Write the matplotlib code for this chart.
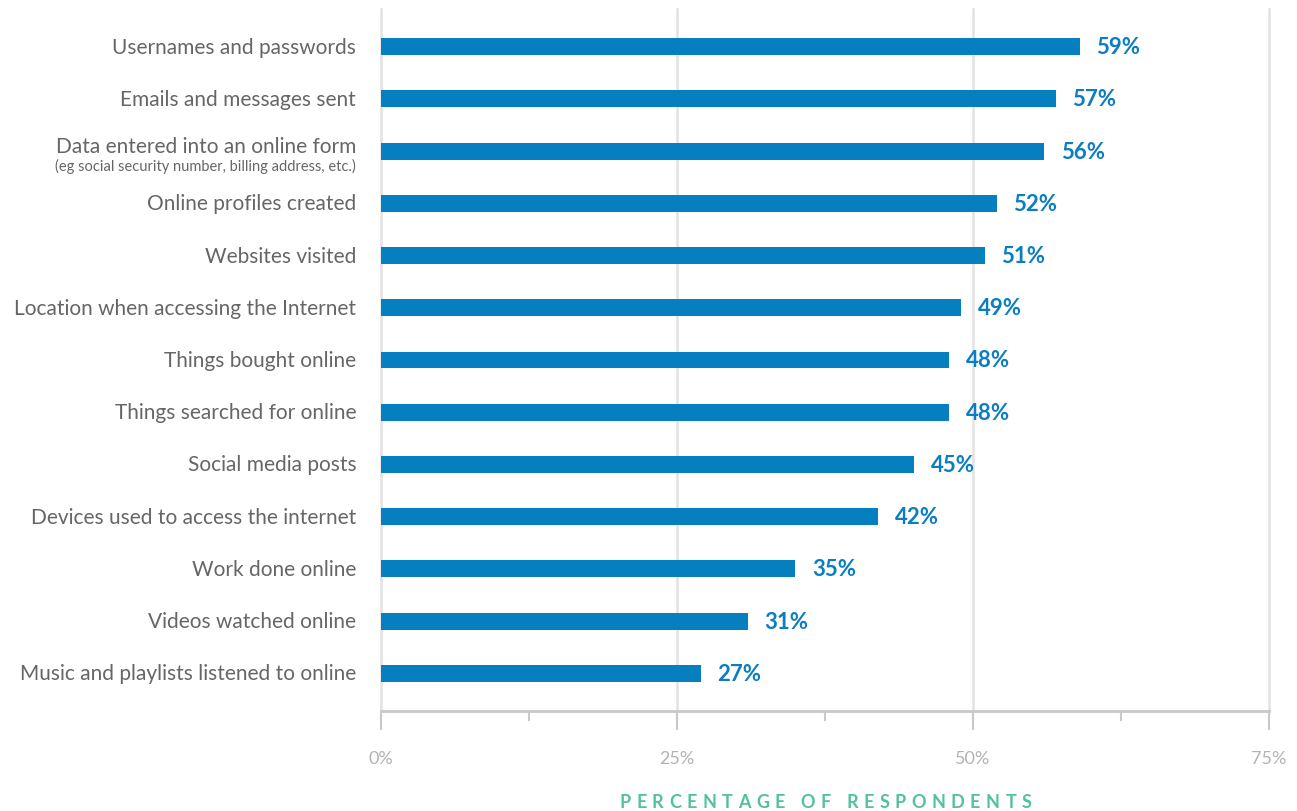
import matplotlib
matplotlib.use("Agg")
import matplotlib.pyplot as plt
from matplotlib.ticker import MultipleLocator, FuncFormatter
from matplotlib.transforms import ScaledTranslation, blended_transform_factory

plt.rcParams['font.family'] = ['Lato', 'DejaVu Sans']

categories = [
    'Usernames and passwords',
    'Emails and messages sent',
    'Data entered into an online form',
    'Online profiles created',
    'Websites visited',
    'Location when accessing the Internet',
    'Things bought online',
    'Things searched for online',
    'Social media posts',
    'Devices used to access the internet',
    'Work done online',
    'Videos watched online',
    'Music and playlists listened to online',
]
notes = {2: '(eg social security number, billing address, etc.)'}
values = [59, 57, 56, 52, 51, 49, 48, 48, 45, 42, 35, 31, 27]

bar_color = '#067fc1'
label_color = '#0b7dc1'
text_color = '#666666'
grid_color = '#e2e2e2'
axis_color = '#c9c9c9'

fig = plt.figure(figsize=(12.97, 8.12), dpi=100)
ax = fig.add_axes([381 / 1297, 1 - 712 / 812, 888 / 1297, 702 / 812])

ypos = list(range(len(categories)))
ax.barh(ypos, values, height=0.325, color=bar_color, zorder=3)
ax.set_xlim(0, 75)
ax.set_ylim(12.72, -0.72)

for y, v in zip(ypos, values):
    ax.annotate(f'{v}%', (v, y), xytext=(12, 0), textcoords='offset points',
                ha='left', va='center', fontsize=16, fontweight='bold',
                color=label_color)

# category names to the left of the bars
trans = blended_transform_factory(ax.transAxes, ax.transData)
for y, name in zip(ypos, categories):
    if y in notes:
        ax.text(-0.028, y - 0.09, name, transform=trans, ha='right', va='center',
                fontsize=15, color=text_color)
        ax.text(-0.028, y + 0.28, notes[y], transform=trans, ha='right',
                va='center', fontsize=10.5, color=text_color)
    else:
        ax.text(-0.028, y, name, transform=trans, ha='right', va='center',
                fontsize=15, color=text_color)

ax.set_yticks([])
ax.xaxis.set_major_locator(MultipleLocator(25))
ax.xaxis.set_minor_locator(MultipleLocator(12.5))
ax.xaxis.set_major_formatter(FuncFormatter(lambda x, _: f'{x:.0f}%'))
ax.tick_params(axis='x', which='major', length=14, width=1.5, color=axis_color,
               pad=14, labelsize=13, labelcolor='#b3b3b3')
ax.tick_params(axis='x', which='minor', length=7, width=1.5, color=axis_color)

ax.grid(axis='x', which='major', color=grid_color, linewidth=1.8, zorder=0)
for gl in ax.get_xgridlines():
    gl.set_clip_on(False)
for side in ['top', 'right', 'left']:
    ax.spines[side].set_visible(False)
ax.spines['bottom'].set_color(axis_color)
ax.spines['bottom'].set_linewidth(2)

last = ax.get_xticklabels()[-1]
last.set_transform(last.get_transform() + ScaledTranslation(0, -4 / 72, fig.dpi_scale_trans))

# letter-spaced axis title, placed one character at a time
title = 'PERCENTAGE OF RESPONDENTS'
renderer = fig.canvas.get_renderer()
tracking = 5.5
props = dict(fontsize=13, fontweight='bold', color='#52c19c')


def text_width(s):
    t = fig.text(0, 0, s, **props)
    w = t.get_window_extent(renderer).width
    t.remove()
    return w


space = text_width('A A') - text_width('AA')
widths = [space if ch == ' ' else text_width(ch) for ch in title]
total = sum(widths) + tracking * (len(title) - 1)
x = 825.5 - total / 2
for ch, w in zip(title, widths):
    fig.text(x / 1297, 1 - 803 / 812, ch, ha='left', va='center', **props)
    x += w + tracking

fig.savefig('out.png', dpi=100)
